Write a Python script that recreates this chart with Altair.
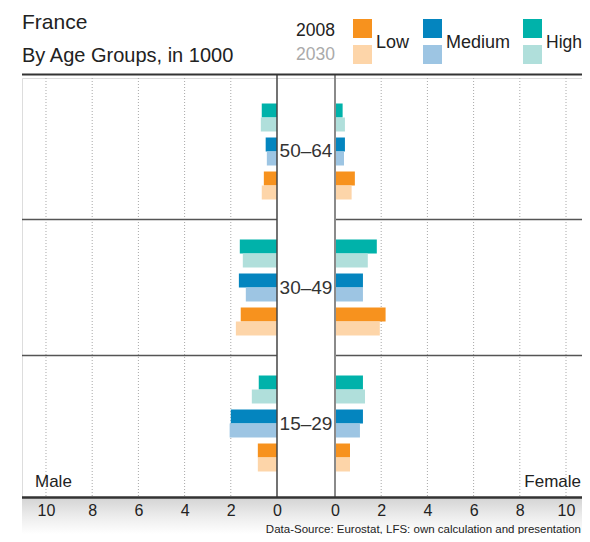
import altair as alt
import pandas as pd

# ---------------- data ----------------
ages = ["50–64", "30–49", "15–29"]
levels = ["High", "Medium", "Low"]
years = ["2008", "2030"]

# values in 1000, rows = ages, columns = levels (High, Medium, Low)
male_2008 = [[0.66, 0.49, 0.57], [1.61, 1.65, 1.57], [0.79, 2.00, 0.83]]
male_2030 = [[0.70, 0.44, 0.66], [1.48, 1.35, 1.78], [1.09, 2.05, 0.83]]
female_2008 = [[0.33, 0.43, 0.86], [1.81, 1.21, 2.19], [1.21, 1.21, 0.65]]
female_2030 = [[0.43, 0.39, 0.72], [1.42, 1.21, 1.94], [1.30, 1.08, 0.65]]

color_keys = ["Low 2008", "Low 2030", "Medium 2008", "Medium 2030", "High 2008", "High 2030"]
color_vals = ["#F7921E", "#FDD5A9", "#0485BF", "#9DC5E3", "#00B2AA", "#B0DFDB"]

tick_values = [0, 2, 4, 6, 8, 10]

# ---------------- build table ----------------
rows = []
for sex, by_year in (("Male", {"2008": male_2008, "2030": male_2030}),
                     ("Female", {"2008": female_2008, "2030": female_2030})):
    for yr, tbl in by_year.items():
        for i, a in enumerate(ages):
            for j, l in enumerate(levels):
                rows.append({"age": a, "level": l, "year": yr, "sex": sex,
                             "value": tbl[i][j], "key": f"{l} {yr}",
                             "cat": f"{a}|{l}"})
df = pd.DataFrame(rows)

# y categories: age|level rows with a spacer row between the age groups
cat_domain = []
for i, a in enumerate(ages):
    cat_domain += [f"{a}|{l}" for l in levels]
    if i < len(ages) - 1:
        cat_domain.append(f"gap{i}")

FONT = "Liberation Sans"
W, H = 560, 419
GAP = 1.2554
XMIN, XMAX = -12.294, 11.948

xscale = alt.Scale(domain=[XMIN, XMAX], nice=False, zero=False)
yscale = alt.Scale(domain=cat_domain, paddingInner=0.1765, paddingOuter=0.75)
oscale = alt.Scale(domain=years, paddingInner=0, paddingOuter=0)
cscale = alt.Scale(domain=color_keys, range=color_vals)

axis_vals = sorted([-(t + GAP) for t in tick_values] + [t + GAP for t in tick_values])
xaxis = alt.Axis(values=axis_vals, labelExpr=f"'' + round(abs(datum.value) - {GAP})",
                 ticks=False, domain=False, grid=False, title=None, zindex=2,
                 labelFont=FONT, labelFontSize=16, labelColor="#222",
                 labelPadding=5, labelFlush=False, labelOverlap=False)

one = pd.DataFrame({"a": [0]})

bars = alt.Chart(df).transform_calculate(
    xa=f"datum.sex == 'Male' ? -(datum.value + {GAP}) : {GAP}",
    xb=f"datum.sex == 'Male' ? {-GAP} : datum.value + {GAP}",
).mark_bar().encode(
    x=alt.X("xa:Q", scale=xscale),
    x2="xb:Q",
    y=alt.Y("cat:N", scale=yscale, axis=None, sort=cat_domain),
    yOffset=alt.YOffset("year:N", scale=oscale, sort=years),
    color=alt.Color("key:N", scale=cscale, legend=None),
)

# gradient band under axis
grad = alt.Chart(one).mark_rect(color=alt.Gradient(
    gradient="linear",
    stops=[alt.GradientStop(color="#d4d4d4", offset=0),
           alt.GradientStop(color="#ececec", offset=0.5),
           alt.GradientStop(color="#ffffff", offset=1)],
    x1=0, x2=0, y1=0, y2=1)).encode(
    x=alt.value(0), x2=alt.value(W), y=alt.value(H + 1), y2=alt.value(H + 37))

# dotted grid (carries the x axis)
grid_df = pd.DataFrame([{"t": t, "s": s} for t in tick_values if t > 0 for s in (-1, 1)])
grid = alt.Chart(grid_df).transform_calculate(
    gx=f"datum.s * (datum.t + {GAP})").mark_rule(
    color="#a8a8a8", strokeDash=[1, 2], strokeWidth=1).encode(
    x=alt.X("gx:Q", scale=xscale, axis=xaxis), y=alt.value(0), y2=alt.value(H))

# separators between age groups (centre of spacer rows)
sep_df = pd.DataFrame([{"cat": c, "s": s} for c in cat_domain if c.startswith("gap")
                       for s in (-1, 1)])
seps = alt.Chart(sep_df).transform_calculate(
    sa=f"datum.s < 0 ? {XMIN} : {XMAX}", sb=f"datum.s * {GAP}").mark_rule(
    color="#555", strokeWidth=1.5).encode(
    x=alt.X("sa:Q", scale=xscale), x2="sb:Q",
    y=alt.Y("cat:N", scale=yscale, axis=None, sort=cat_domain))

center_l = alt.Chart(one).mark_rule(color="#444", strokeWidth=1.5).encode(
    x=alt.X(datum=-GAP, scale=xscale), y=alt.value(-3), y2=alt.value(H))
center_r = alt.Chart(one).mark_rule(color="#8a8a8a", strokeWidth=2).encode(
    x=alt.X(datum=GAP, scale=xscale), y=alt.value(-3), y2=alt.value(H))

top_line = alt.Chart(one).mark_rule(color="#333", strokeWidth=2).encode(
    x=alt.value(0), x2=alt.value(W), y=alt.value(-3.5))
bottom_line = alt.Chart(one).mark_rule(color="#333", strokeWidth=2.5).encode(
    x=alt.value(0), x2=alt.value(W), y=alt.value(H + 0.5))

age_df = pd.DataFrame({"age": ages, "cat": [f"{a}|Medium" for a in ages]})
age_labels = alt.Chart(age_df).mark_text(
    font=FONT, fontSize=19, color="#333", baseline="middle", align="center").encode(
    x=alt.X(datum=0, scale=xscale),
    y=alt.Y("cat:N", scale=yscale, axis=None, sort=cat_domain),
    text="age:N")


def label(txt, x, y, size, color="#222", align="left"):
    return alt.Chart(one).mark_text(
        text=txt, font=FONT, fontSize=size, color=color, align=align,
        baseline="alphabetic").encode(x=alt.value(x), y=alt.value(y))


LX = -7  # legend shift to stay inside the page
texts = [
    label("France", 0, -49, 21),
    label("By Age Groups, in 1000", 0, -16, 20),
    label("2008", 320 + LX, -42, 17.5, "#222", "right"),
    label("2030", 320 + LX, -18, 17.5, "#aaa", "right"),
    label("Low", 361 + LX, -30, 18),
    label("Medium", 431 + LX, -30, 18),
    label("High", 531 + LX, -30, 17.5),
    label("Male", 13, 408.5, 17),
    label("Female", 559, 408.5, 17, "#222", "right"),
    label("Data-Source: Eurostat, LFS: own calculation and presentation", 559, 454.5, 11.5,
          "#222", "right"),
]

swatches = []
sx = {"Low": 338 + LX, "Medium": 408 + LX, "High": 508 + LX}
for key, col in zip(color_keys, color_vals):
    lvl, yr = key.split(" ")
    y0 = -59 if yr == "2008" else -33
    swatches.append(alt.Chart(one).mark_rect(color=col).encode(
        x=alt.value(sx[lvl]), x2=alt.value(sx[lvl] + 19),
        y=alt.value(y0), y2=alt.value(y0 + 19)))

chart = alt.layer(
    grad, grid, seps, bars, center_l, center_r, top_line, bottom_line,
    age_labels, *texts, *swatches
).properties(
    width=W, height=H,
    autosize=alt.AutoSizeParams(type="none"),
    padding={"left": 14, "top": 70, "right": 0, "bottom": 37},
).configure_view(stroke=None).configure(font=FONT)

chart.save("out.html", embed_options={"renderer": "svg", "actions": False})
